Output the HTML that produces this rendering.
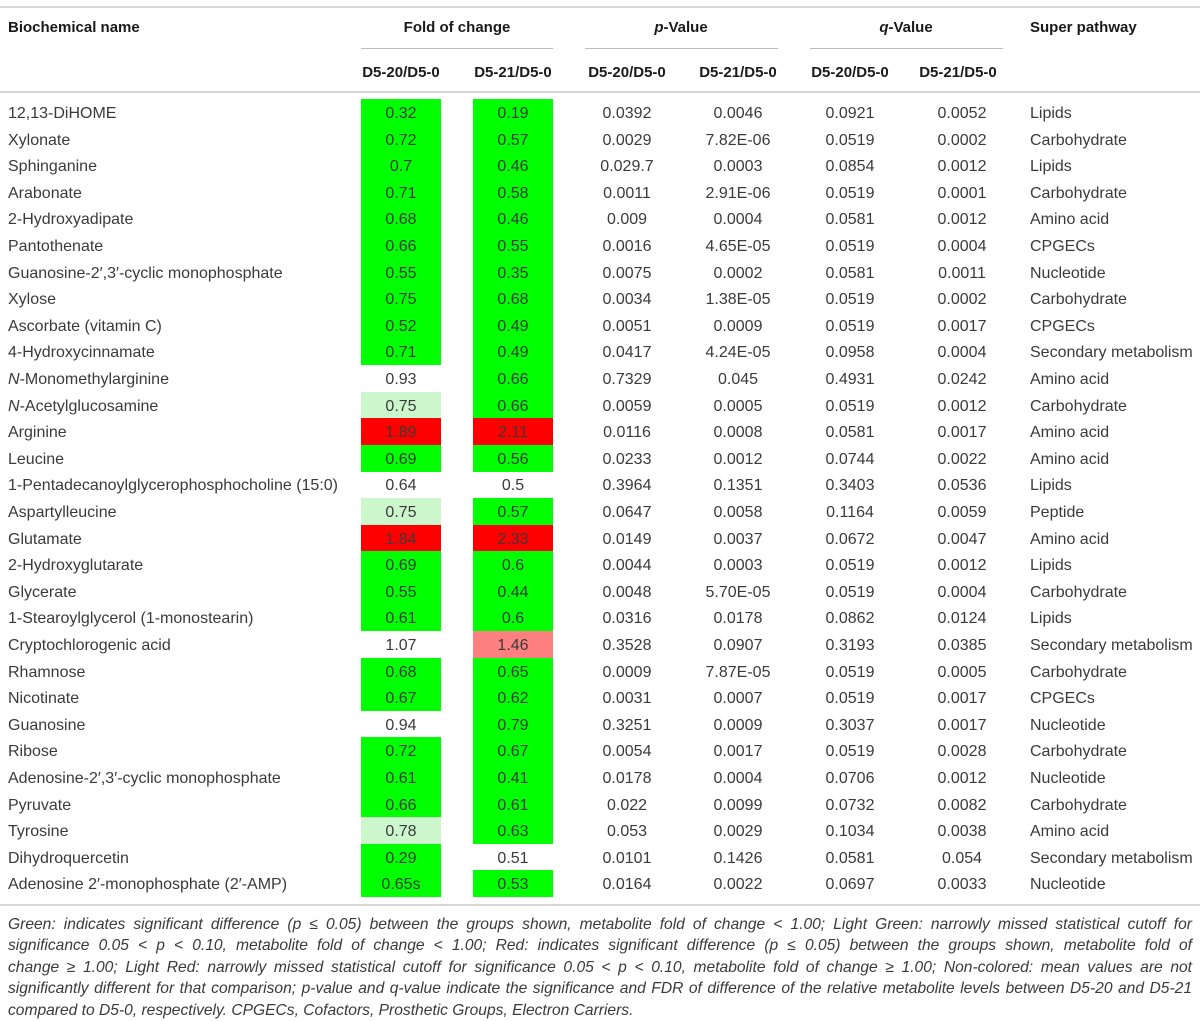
<!DOCTYPE html>
<html><head><meta charset="utf-8">
<style>
html,body{margin:0;padding:0;background:#fff;}
body{width:1200px;height:1020px;position:relative;overflow:hidden;font-family:"Liberation Sans",sans-serif;}
.t{position:absolute;white-space:nowrap;font-size:16px;color:#3a3a3a;line-height:20px;}
.h{position:absolute;white-space:nowrap;font-size:15px;font-weight:bold;color:#1a1a1a;line-height:20px;}
.c{transform:translateX(-50%);}
.line{position:absolute;height:2px;background:#d6d6d6;}
.cell{position:absolute;}
#foot{position:absolute;left:8px;top:914px;width:1184px;font-size:15.6px;font-style:italic;color:#3a3a3a;line-height:21.4px;}
#foot div{text-align:justify;text-align-last:justify;white-space:nowrap;}
#foot div.last{text-align-last:left;}
</style></head><body>
<div class="line" style="left:0;top:6px;width:1200px"></div>
<div class="h" style="left:8px;top:18px">Biochemical name</div>
<div class="h c" style="left:457px;top:18px">Fold of change</div>
<div class="h c" style="left:681px;top:18px"><i>p</i>-Value</div>
<div class="h c" style="left:906px;top:18px"><i>q</i>-Value</div>
<div class="h" style="left:1030px;top:18px">Super pathway</div>
<div class="line" style="left:361px;top:48px;width:192px;height:1px;background:#bbb"></div>
<div class="line" style="left:585px;top:48px;width:193px;height:1px;background:#bbb"></div>
<div class="line" style="left:810px;top:48px;width:193px;height:1px;background:#bbb"></div>
<div class="h c" style="left:401px;top:63px">D5-20/D5-0</div>
<div class="h c" style="left:513px;top:63px">D5-21/D5-0</div>
<div class="h c" style="left:627px;top:63px">D5-20/D5-0</div>
<div class="h c" style="left:738px;top:63px">D5-21/D5-0</div>
<div class="h c" style="left:850px;top:63px">D5-20/D5-0</div>
<div class="h c" style="left:958px;top:63px">D5-21/D5-0</div>
<div class="line" style="left:0;top:91px;width:1200px"></div>
<div id="rows"></div>
<div class="line" style="left:0;top:904px;width:1200px"></div>
<div id="foot">
<div>Green: indicates significant difference (p ≤ 0.05) between the groups shown, metabolite fold of change &lt; 1.00; Light Green: narrowly missed statistical cutoff for</div>
<div>significance 0.05 &lt; p &lt; 0.10, metabolite fold of change &lt; 1.00; Red: indicates significant difference (p ≤ 0.05) between the groups shown, metabolite fold of</div>
<div>change ≥ 1.00; Light Red: narrowly missed statistical cutoff for significance 0.05 &lt; p &lt; 0.10, metabolite fold of change ≥ 1.00; Non-colored: mean values are not</div>
<div>significantly different for that comparison; p-value and q-value indicate the significance and FDR of difference of the relative metabolite levels between D5-20 and D5-21</div>
<div class="last">compared to D5-0, respectively. CPGECs, Cofactors, Prosthetic Groups, Electron Carriers.</div>
</div>
<script>
const names=["12,13-DiHOME","Xylonate","Sphinganine","Arabonate","2-Hydroxyadipate","Pantothenate","Guanosine-2′,3′-cyclic monophosphate","Xylose","Ascorbate (vitamin C)","4-Hydroxycinnamate","<i>N</i>-Monomethylarginine","<i>N</i>-Acetylglucosamine","Arginine","Leucine","1-Pentadecanoylglycerophosphocholine (15:0)","Aspartylleucine","Glutamate","2-Hydroxyglutarate","Glycerate","1-Stearoylglycerol (1-monostearin)","Cryptochlorogenic acid","Rhamnose","Nicotinate","Guanosine","Ribose","Adenosine-2′,3′-cyclic monophosphate","Pyruvate","Tyrosine","Dihydroquercetin","Adenosine 2′-monophosphate (2′-AMP)"];
const fold20=["0.32","0.72","0.7","0.71","0.68","0.66","0.55","0.75","0.52","0.71","0.93","0.75","1.89","0.69","0.64","0.75","1.84","0.69","0.55","0.61","1.07","0.68","0.67","0.94","0.72","0.61","0.66","0.78","0.29","0.65s"];
const fold21=["0.19","0.57","0.46","0.58","0.46","0.55","0.35","0.68","0.49","0.49","0.66","0.66","2.11","0.56","0.5","0.57","2.33","0.6","0.44","0.6","1.46","0.65","0.62","0.79","0.67","0.41","0.61","0.63","0.51","0.53"];
const color20=["G","G","G","G","G","G","G","G","G","G","N","L","R","G","N","L","R","G","G","G","N","G","G","N","G","G","G","L","G","G"];
const color21=["G","G","G","G","G","G","G","G","G","G","G","G","R","G","N","G","R","G","G","G","P","G","G","G","G","G","G","G","N","G"];
const p20=["0.0392","0.0029","0.029.7","0.0011","0.009","0.0016","0.0075","0.0034","0.0051","0.0417","0.7329","0.0059","0.0116","0.0233","0.3964","0.0647","0.0149","0.0044","0.0048","0.0316","0.3528","0.0009","0.0031","0.3251","0.0054","0.0178","0.022","0.053","0.0101","0.0164"];
const p21=["0.0046","7.82E-06","0.0003","2.91E-06","0.0004","4.65E-05","0.0002","1.38E-05","0.0009","4.24E-05","0.045","0.0005","0.0008","0.0012","0.1351","0.0058","0.0037","0.0003","5.70E-05","0.0178","0.0907","7.87E-05","0.0007","0.0009","0.0017","0.0004","0.0099","0.0029","0.1426","0.0022"];
const q20=["0.0921","0.0519","0.0854","0.0519","0.0581","0.0519","0.0581","0.0519","0.0519","0.0958","0.4931","0.0519","0.0581","0.0744","0.3403","0.1164","0.0672","0.0519","0.0519","0.0862","0.3193","0.0519","0.0519","0.3037","0.0519","0.0706","0.0732","0.1034","0.0581","0.0697"];
const q21=["0.0052","0.0002","0.0012","0.0001","0.0012","0.0004","0.0011","0.0002","0.0017","0.0004","0.0242","0.0012","0.0017","0.0022","0.0536","0.0059","0.0047","0.0012","0.0004","0.0124","0.0385","0.0005","0.0017","0.0017","0.0028","0.0012","0.0082","0.0038","0.054","0.0033"];
const pathway=["Lipids","Carbohydrate","Lipids","Carbohydrate","Amino acid","CPGECs","Nucleotide","Carbohydrate","CPGECs","Secondary metabolism","Amino acid","Carbohydrate","Amino acid","Amino acid","Lipids","Peptide","Amino acid","Lipids","Carbohydrate","Lipids","Secondary metabolism","Carbohydrate","CPGECs","Nucleotide","Carbohydrate","Nucleotide","Carbohydrate","Amino acid","Secondary metabolism","Nucleotide"];
const palette={G:"#00ff00",L:"#ccf7cc",R:"#ff0000",P:"#ff8080",N:"transparent"};
const top0=99, rowH=26.6;
const root=document.getElementById('rows');
function txt(html,x,y,center,name){
  const d=document.createElement('div');
  d.className='t'+(center?' c':'');
  d.style.left=x+'px';d.style.top=(y+5)+'px';
  d.innerHTML=html;
  
  
  root.appendChild(d);
}
function box(col,x,w,y,name){
  const b=document.createElement('div');
  b.className='cell';
  b.style.left=x+'px';b.style.top=y+'px';b.style.width=w+'px';b.style.height=(rowH+0.4)+'px';
  b.style.background=palette[col];
  
  
  root.appendChild(b);
}
names.forEach((n,i)=>{
  const y=top0+i*rowH;
  box(color20[i],361,80,y,'fold-d520-cell');
  box(color21[i],473,80,y,'fold-d521-cell');
  txt(n,8,y,false,'biochemical-name');
  txt(fold20[i],401,y,true,'fold-d520-value');
  txt(fold21[i],513,y,true,'fold-d521-value');
  txt(p20[i],627,y,true,'p-d520-value');
  txt(p21[i],738,y,true,'p-d521-value');
  txt(q20[i],850,y,true,'q-d520-value');
  txt(q21[i],962,y,true,'q-d521-value');
  txt(pathway[i],1030,y,false,'super-pathway');
});
</script>
</body></html>
